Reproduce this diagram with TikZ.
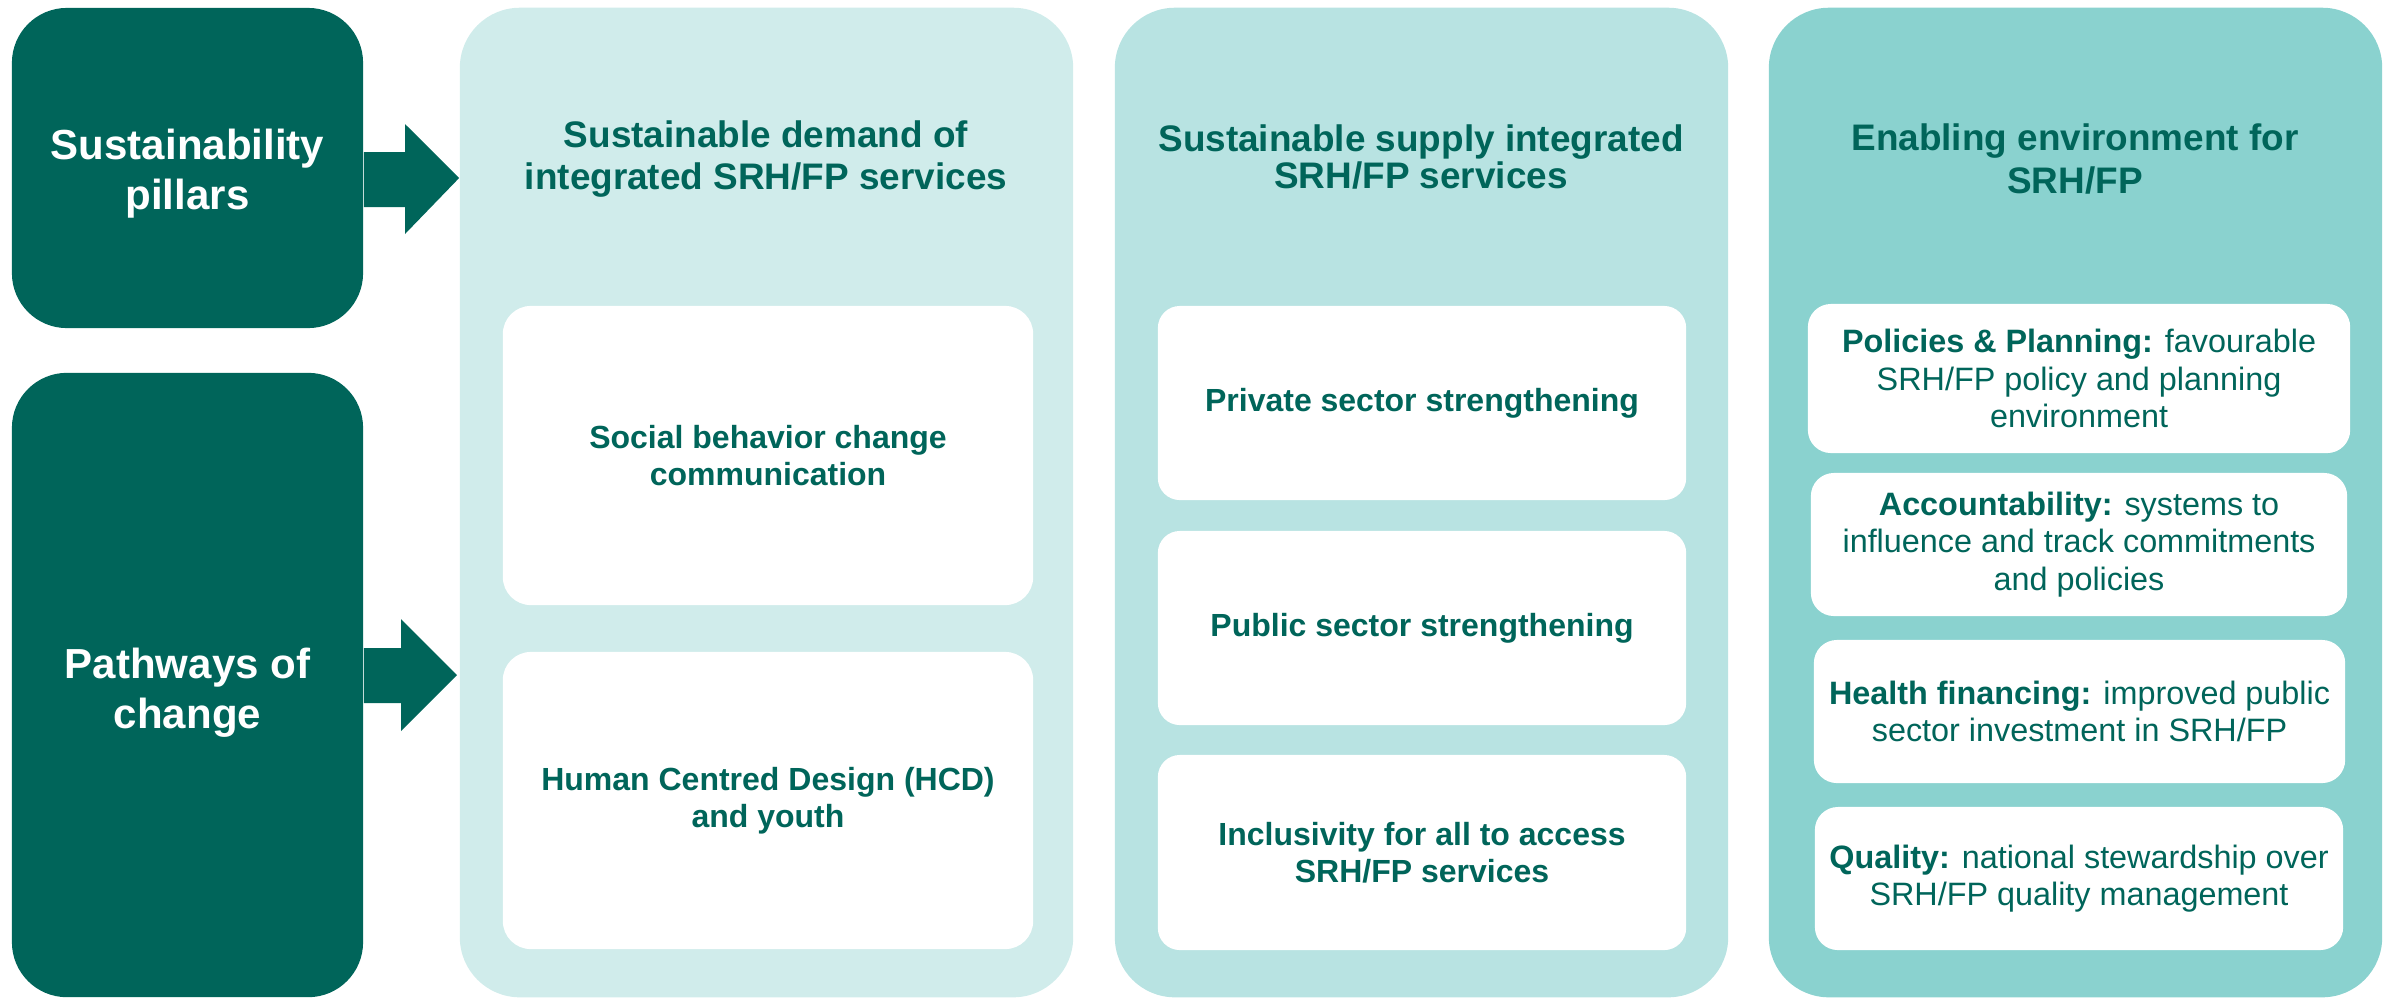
\documentclass[tikz,border=0pt]{standalone}
\usepackage{fontspec}
\setmainfont{Liberation Sans}
\usetikzlibrary{calc}
\definecolor{dk}{HTML}{00655A}
\definecolor{cA}{HTML}{D0ECEB}
\definecolor{cB}{HTML}{B8E3E2}
\definecolor{cC}{HTML}{8AD2CF}
\begin{document}
\begin{tikzpicture}[x=0.01cm,y=-0.01cm,
 pillar/.style={fill=dk, rounded corners=0.55cm, inner sep=0pt, minimum width=3.51cm},
 pillartext/.style={text=white, align=center, inner sep=0pt,
   font=\fontsize{11.95}{14.2}\selectfont\bfseries},
 column/.style={rounded corners=0.6cm, inner sep=0pt, minimum width=6.13cm, minimum height=9.89cm},
 coltitle/.style={text=dk, align=center, inner sep=0pt, font=\fontsize{10.5}{12.2}\selectfont\bfseries},
 itemA/.style={fill=white, rounded corners=0.28cm, inner sep=0pt, text=dk, align=center,
   font=\fontsize{9.1}{10.5}\selectfont\bfseries, minimum width=5.30cm},
 itemB/.style={fill=white, rounded corners=0.22cm, inner sep=0pt, text=dk, align=center,
   font=\fontsize{9.1}{10.5}\selectfont\bfseries, minimum width=5.28cm, minimum height=1.94cm},
 itemC/.style={fill=white, rounded corners=0.23cm, inner sep=0pt, text=dk, align=center,
   font=\fontsize{9.2}{10.7}\selectfont, minimum height=1.43cm},
 pillararrow/.style={fill=dk}
]
\useasboundingbox (0,0) rectangle (2389,999);

% left pillar boxes
\node[pillar, minimum height=3.20cm] (sp) at (187.5,168) {};
\node[pillartext] (sptext) at (187.5,174) {Sustainability\\pillars};
\node[pillar, minimum height=6.24cm] (pc) at (187.5,685) {};
\node[pillartext] (pctext) at (187.5,693) {Pathways of\\change};

% columns
\node[column, fill=cA] (col1) at (766.5,502.5) {};
\node[column, fill=cB] (col2) at (1421.5,502.5) {};
\node[column, fill=cC] (col3) at (2075.5,502.5) {};

% titles
\node[coltitle] (t1) at (766,159) {Sustainable demand of\\integrated SRH/FP services};
\node[coltitle, font=\fontsize{10.5}{10.6}\selectfont\bfseries] (t2) at (1421,157) {Sustainable supply integrated\\SRH/FP services};
\node[coltitle] (t3) at (2075,159) {Enabling environment for\\SRH/FP};

% column 1 items
\node[itemA, minimum height=2.99cm] (a1) at (768,455.5) {Social behavior change\\communication};
\node[itemA, minimum height=2.97cm] (a2) at (768,800.5) {Human Centred Design (HCD)\\and youth};

% column 2 items
\node[itemB] (b1) at (1422,403) {\raisebox{-0.04cm}{Private sector strengthening}};
\node[itemB] (b2) at (1422,628) {\raisebox{-0.04cm}{Public sector strengthening}};
\node[itemB, minimum height=1.95cm] (b3) at (1422,852.5) {Inclusivity for all to access\\SRH/FP services};

% column 3 items
\node[itemC, minimum width=5.42cm, minimum height=1.49cm] (e1) at (2079,378.5)
  {\textbf{Policies \& Planning:} favourable\\SRH/FP policy and planning\\environment};
\node[itemC, minimum width=5.36cm] (e2) at (2079,544.5)
  {\textbf{Accountability:} systems to\\influence and track commitments\\and policies};
\node[itemC, minimum width=5.31cm] (e3) at (2079.5,711.5)
  {\textbf{Health financing:} improved public\\sector investment in SRH/FP};
\node[itemC, minimum width=5.28cm] (e4) at (2079,878.5)
  {\textbf{Quality:} national stewardship over\\SRH/FP quality management};

% arrows
\coordinate (ya1) at (0,152);
\coordinate (yb1) at (0,207);
\coordinate (yt1) at (0,178);
\fill[pillararrow] (sp.east |- ya1) -- (405,152) -- (405,124) -- (col1.west |- yt1)
  -- (405,234) -- (405,207) -- (sp.east |- yb1) -- cycle;

\coordinate (ya2) at (0,648);
\coordinate (yb2) at (0,703);
\fill[pillararrow] (pc.east |- ya2) -- (401,648) -- (401,619) -- (457,675)
  -- (401,731) -- (401,703) -- (pc.east |- yb2) -- cycle;
\end{tikzpicture}
\end{document}
